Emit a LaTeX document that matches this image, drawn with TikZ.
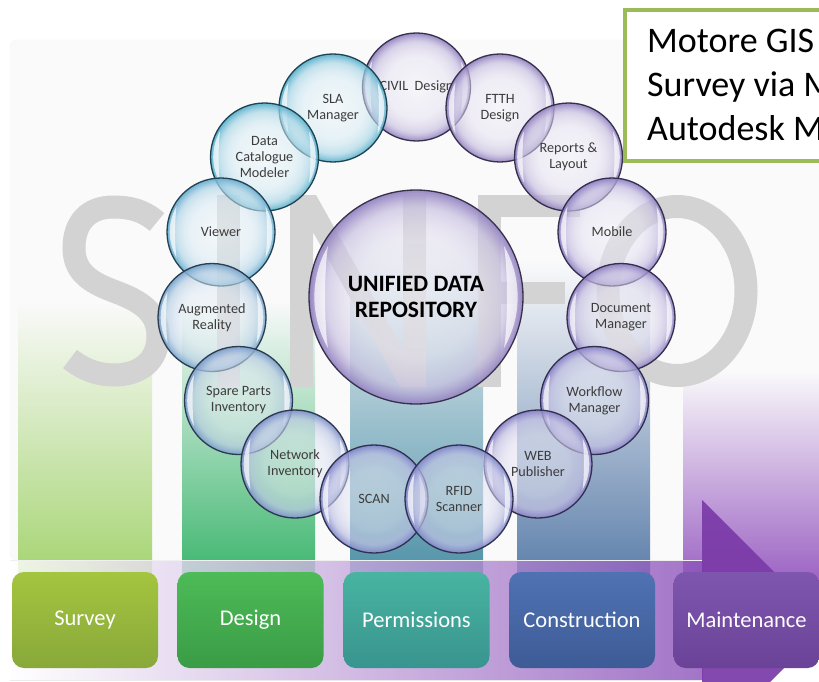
\documentclass[tikz,border=0pt]{standalone}
\usepackage{fontspec}
\setmainfont{Carlito}
\usetikzlibrary{fadings}

% stage boxes
\definecolor{surveyT}{HTML}{A4C53F}
\definecolor{surveyB}{HTML}{88A83A}
\definecolor{designT}{HTML}{4DBB57}
\definecolor{designB}{HTML}{3A9C46}
\definecolor{permitT}{HTML}{48B4A1}
\definecolor{permitB}{HTML}{39948F}
\definecolor{constrT}{HTML}{5072B3}
\definecolor{constrB}{HTML}{3D5B96}
\definecolor{maintT}{HTML}{7F56AE}
\definecolor{maintB}{HTML}{6A4398}
% background columns
\definecolor{panel}{HTML}{FAFAFB}
\definecolor{colA}{HTML}{A3D36E}
\definecolor{colB}{HTML}{38B46A}
\definecolor{colC}{HTML}{4C8FA6}
\definecolor{colD}{HTML}{5A7DA9}
\definecolor{colE}{HTML}{9A60C2}
\definecolor{arrowP}{HTML}{7A3AA8}
\definecolor{bandP}{HTML}{8C52BA}
\definecolor{wmgrey}{HTML}{D3D3D3}
\definecolor{notegreen}{HTML}{9BBB59}
\definecolor{bubtext}{HTML}{3C3C3C}
% bubble tints
\definecolor{tAqua}{HTML}{4AA9C9}
\definecolor{tAquaB}{HTML}{5AA6CC}
\definecolor{tSteel}{HTML}{6A9BC8}
\definecolor{tSteelB}{HTML}{6E94C6}
\definecolor{tBlue}{HTML}{7288C6}
\definecolor{tIndigo}{HTML}{767CC6}
\definecolor{tViolet}{HTML}{7D76C2}
\definecolor{tLav}{HTML}{8474BE}
\definecolor{tPurple}{HTML}{8A78BC}

\colorlet{bubtint}{tPurple}
\pgfdeclareradialshading[bubtint]{bubble}{\pgfpoint{0bp}{0bp}}{%
  color(0bp)=(bubtint!11); color(14bp)=(bubtint!22); color(21bp)=(bubtint!46);
  color(25bp)=(bubtint!92); color(50bp)=(bubtint!92)}
% opacity mask: see-through centre, solid rim (white = opaque)
\pgfdeclareradialshading{bubfadeshade}{\pgfpoint{0bp}{0bp}}{%
  color(0bp)=(black!52); color(17bp)=(black!45);
  color(22bp)=(black!25); color(25bp)=(black!5);
  color(50bp)=(black!5)}
\pgfdeclarefading{bubfade}{\pgfuseshading{bubfadeshade}}

% #1 name, #2 x, #3 y, #4 radius, #5 tint, #6 label, #7 label options
\newcommand\bubble[7]{%
  \colorlet{bubtint}{#5}%
  \shade[shading=bubble, path fading=bubfade] (#2,#3) circle (#4pt);
  \fill[white, opacity=.7] ([shift={(150:0.95*#4pt)}]#2,#3)
    arc[start angle=150, end angle=210, radius=0.95*#4pt]
    .. controls ([shift={(195:0.89*#4pt)}]#2,#3) and ([shift={(165:0.89*#4pt)}]#2,#3)
    .. ([shift={(150:0.95*#4pt)}]#2,#3) -- cycle;
  \fill[white, opacity=.7] ([shift={(-30:0.95*#4pt)}]#2,#3)
    arc[start angle=-30, end angle=30, radius=0.95*#4pt]
    .. controls ([shift={(15:0.89*#4pt)}]#2,#3) and ([shift={(-15:0.89*#4pt)}]#2,#3)
    .. ([shift={(-30:0.95*#4pt)}]#2,#3) -- cycle;
  \node[bubble label, draw=bubtint!40!black, minimum size=2*#4pt, #7] (#1) at (#2,#3) {#6};
}

\begin{document}
\begin{tikzpicture}[x=1pt, y=-1pt,
  bubble label/.style={circle, inner sep=0pt, line width=1.3pt, text=bubtext, align=center,
    font=\fontsize{14.2}{16}\selectfont},
  hub label/.style={text=black, font=\bfseries\fontsize{23.5}{25.5}\selectfont},
  stage/.style={rounded corners=12pt, minimum width=146pt, minimum height=96pt,
    inner sep=0pt, text=white, font=\fontsize{22.5}{26}\selectfont},
  notetext/.style={anchor=base west, inner sep=0pt, font=\fontsize{36}{43}\selectfont}]
\useasboundingbox (0,0) rectangle (819,682);
\clip (0,0) rectangle (819,682);
\fill[white] (0,0) rectangle (819,682);

% faint backdrop panel
\fill[panel, draw=gray!5, rounded corners=6pt] (10,40) rectangle (830,560);

% stage columns fading in from the top
\shade[top color=panel, middle color=colA!33, bottom color=colA] (18,300) rectangle (152,585);
\shade[top color=panel, middle color=colB!38, bottom color=colB] (182,300) rectangle (315,585);
\shade[top color=panel, middle color=colC!33, bottom color=colC] (350,230) rectangle (483,585);
\shade[top color=panel, middle color=colD!33, bottom color=colD] (517,260) rectangle (650,585);
\shade[top color=panel, middle color=colE!38, bottom color=colE] (683,370) rectangle (830,585);

% SINFO watermark
\begin{scope}[wmgrey]
  \draw[line width=23pt] (157,222) .. controls (142,209) and (127,207) .. (113,207)
    .. controls (89,207) and (74,222) .. (74,248)
    .. controls (74,275) and (95,284) .. (116,292)
    .. controls (140,301) and (158,312) .. (158,336)
    .. controls (158,361) and (140,375) .. (114,375)
    .. controls (98,375) and (84,370) .. (70,359);
  \fill (217,195) rectangle (240,387);
  \fill (290,387) -- (290,195) -- (316,195) -- (403,350) -- (403,195) -- (426,195)
    -- (426,387) -- (400,387) -- (313,232) -- (313,387) -- cycle;
  \fill (478,195) rectangle (501,387);
  \fill (478,195) rectangle (580,217);
  \fill (478,282) rectangle (565,304);
  \draw[line width=23pt] (677,291) ellipse [x radius=69pt, y radius=84.5pt];
\end{scope}

% process band with its arrow head
\shade[left color=white, middle color=bandP!18, right color=bandP, opacity=.8]
  (10,560) rectangle (703,680);
\draw[white!88!gray, line width=1pt] (10,560) -- (703,560);
\draw[white!85!gray, line width=1pt] (10,680) -- (703,680);
\fill[arrowP, opacity=.92] (702,500) -- (827,625) -- (702,750) -- cycle;

% stage boxes
\node[stage, top color=surveyT, bottom color=surveyB] (survey) at (85,620) {Survey};
\node[stage, top color=designT, bottom color=designB] (design) at (250.5,620) {Design};
\node[stage, top color=permitT, bottom color=permitB] (permit) at (416.5,620) {Permissions};
\node[stage, top color=constrT, bottom color=constrB] (constr) at (582,620) {Construction};
\node[stage, top color=maintT, bottom color=maintB] (maint) at (746.5,620) {Maintenance};

% central repository
\bubble{udr}{416}{297}{107}{tPurple}{UNIFIED DATA\\REPOSITORY}{hub label}

% ring of modules
\bubble{civil}{416.5}{87}{54}{tPurple}{CIVIL\ \ Design}{}
\bubble{sla}{333}{108}{54}{tAqua}{SLA\\Manager}{}
\bubble{ftth}{500}{108}{54}{tPurple}{FTTH\\Design}{}
\bubble{catalogue}{264.5}{157}{54}{tAqua}{Data\\Catalogue\\Modeler}{}
\bubble{reports}{568.5}{157}{54}{tPurple}{Reports \&\\Layout}{}
\bubble{viewer}{221}{232}{54}{tAquaB}{Viewer}{}
\bubble{mobile}{612}{232}{54}{tLav}{Mobile}{}
\bubble{augmented}{212}{317.5}{54}{tSteel}{Augmented\\Reality}{}
\bubble{document}{621}{317.5}{54}{tLav}{Document\\Manager}{}
\bubble{spare}{238.5}{400.5}{54}{tSteelB}{Spare Parts\\Inventory}{}
\bubble{workflow}{594.5}{400.5}{54}{tViolet}{Workflow\\Manager}{}
\bubble{network}{295}{464}{54}{tBlue}{Network\\Inventory}{}
\bubble{web}{538}{464}{54}{tViolet}{WEB\\Publisher}{}
\bubble{scan}{374}{499}{54}{tIndigo}{SCAN}{}
\bubble{rfid}{459}{499}{54}{tIndigo}{RFID\\Scanner}{}

% note panel
\draw[notegreen, line width=4pt, fill=white] (625,10) rectangle (840,161);
\node[notetext] (note1) at (647,53) {Motore GIS};
\node[notetext] (note2) at (647,97) {Survey via M};
\node[notetext] (note3) at (647,140) {Autodesk M};
\end{tikzpicture}
\end{document}
